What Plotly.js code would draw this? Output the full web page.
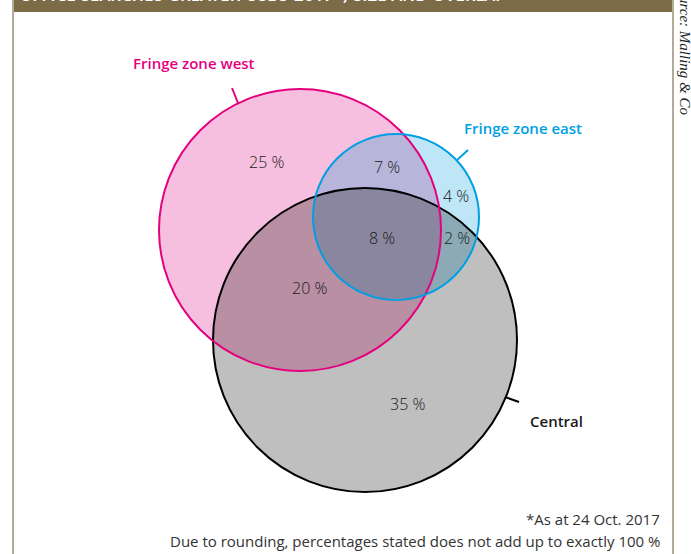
<!DOCTYPE html>
<html>
<head>
<meta charset="utf-8">
<script src="https://cdn.plot.ly/plotly-3.0.1.min.js"></script>
<style>
  html, body { margin: 0; padding: 0; background: #fff; }
  #chart { width: 691px; height: 554px; }
</style>
</head>
<body>
<div id="chart"></div>
<script>
// ---- data ----
const setNames = ['Fringe zone west', 'Fringe zone east', 'Central'];
const regionNames = ['West only', 'West & East', 'East only', 'West & East & Central', 'East & Central', 'West & Central', 'Central only'];
const regionValues = [25, 7, 4, 8, 2, 20, 35];
const titleText = 'OFFICE SEARCHES GREATER OSLO 2017*, SIZE AND OVERLAP';
const sourceText = 'Source: Malling & Co';
const footnotes = ['*As at 24 Oct. 2017', 'Due to rounding, percentages stated does not add up to exactly 100 %'];

// ---- layout geometry / styling ----
const circles = [
  {cx: 300, cy: 230, r: 141, fill: '#f7bfdf', line: '#e4007f'},
  {cx: 396, cy: 217, r: 83, fill: '#bee6f7', line: '#009fe3'},
  {cx: 365, cy: 340, r: 152, fill: '#bfbfbf', line: '#000000'}
];
// painter order for overlap fills: [set indices, colour]
const overlapFills = [
  [[0, 2], '#b98fa3'],
  [[0, 1], '#b8b5db'],
  [[1, 2], '#8caab5'],
  [[0, 1, 2], '#8a86a0']
];
const strokeOrder = [2, 0, 1];
const regionPos = [[266, 162], [387, 167], [456, 196], [382, 238], [457, 238], [309, 288], [407, 404]];
const setLabelPos = [{x: 131, y: 63}, {x: 462, y: 128}, {x: 528, y: 421}];
const leaders = [[232, 88, 238, 103], [468, 150, 457, 160], [505, 397, 519, 402]];

// ---- geometry helpers ----
const N = 720;
function circlePts(c) {
  const pts = [];
  for (let i = 0; i < N; i++) { const a = 2 * Math.PI * i / N; pts.push([c.cx + c.r * Math.cos(a), c.cy + c.r * Math.sin(a)]); }
  return pts;
}
function inside(p, c) { const dx = p[0] - c.cx, dy = p[1] - c.cy; return dx * dx + dy * dy <= c.r * c.r + 1e-6; }
function pairIntersections(a, b) {
  const dx = b.cx - a.cx, dy = b.cy - a.cy, d = Math.hypot(dx, dy);
  if (d > a.r + b.r || d < Math.abs(a.r - b.r)) return [];
  const l = (a.r * a.r - b.r * b.r + d * d) / (2 * d), h = Math.sqrt(Math.max(0, a.r * a.r - l * l));
  const mx = a.cx + l * dx / d, my = a.cy + l * dy / d;
  return [[mx + h * dy / d, my - h * dx / d], [mx - h * dy / d, my + h * dx / d]];
}
function regionPath(idxs) {
  const pts = [];
  idxs.forEach(i => circlePts(circles[i]).forEach(p => {
    if (idxs.every(j => j === i || inside(p, circles[j]))) pts.push(p);
  }));
  for (let a = 0; a < idxs.length; a++) for (let b = a + 1; b < idxs.length; b++) {
    pairIntersections(circles[idxs[a]], circles[idxs[b]]).forEach(p => {
      if (idxs.every(j => j === idxs[a] || j === idxs[b] || inside(p, circles[j]))) pts.push(p);
    });
  }
  const mx = pts.reduce((s, p) => s + p[0], 0) / pts.length, my = pts.reduce((s, p) => s + p[1], 0) / pts.length;
  pts.sort((p, q) => Math.atan2(p[1] - my, p[0] - mx) - Math.atan2(q[1] - my, q[0] - mx));
  return 'M' + pts.map(p => p[0].toFixed(2) + ',' + p[1].toFixed(2)).join('L') + 'Z';
}

const shapes = [];
// base fills: central, west, east
[2, 0, 1].forEach(i => { const c = circles[i]; shapes.push({type: 'circle', xref: 'x', yref: 'y', x0: c.cx - c.r, x1: c.cx + c.r, y0: c.cy - c.r, y1: c.cy + c.r, fillcolor: c.fill, line: {width: 0}, layer: 'below'}); });
// overlap fills
overlapFills.forEach(o => shapes.push({type: 'path', xref: 'x', yref: 'y', path: regionPath(o[0]), fillcolor: o[1], line: {width: 0}, layer: 'below'}));
// banner + frame
shapes.push({type: 'rect', xref: 'x', yref: 'y', x0: 13, x1: 673, y0: 0, y1: 12, fillcolor: '#7b6c47', line: {width: 0}, layer: 'below'});
shapes.push({type: 'line', xref: 'x', yref: 'y', x0: 13, x1: 13, y0: 0, y1: 554, line: {color: '#b3aa99', width: 2}, layer: 'above'});
shapes.push({type: 'line', xref: 'x', yref: 'y', x0: 673, x1: 673, y0: 0, y1: 554, line: {color: '#b3aa99', width: 2}, layer: 'above'});
// strokes
strokeOrder.forEach(i => { const c = circles[i]; shapes.push({type: 'circle', xref: 'x', yref: 'y', x0: c.cx - c.r, x1: c.cx + c.r, y0: c.cy - c.r, y1: c.cy + c.r, fillcolor: 'rgba(0,0,0,0)', line: {color: c.line, width: 2}, layer: 'above'}); });
// leaders
leaders.forEach((l, i) => shapes.push({type: 'line', xref: 'x', yref: 'y', x0: l[0], y0: l[1], x1: l[2], y1: l[3], line: {color: circles[i].line, width: 2}, layer: 'above'}));

const annotations = [];
regionValues.forEach((v, i) => annotations.push({
  x: regionPos[i][0], y: regionPos[i][1], xref: 'x', yref: 'y', text: v + ' %', showarrow: false,
  xanchor: 'center', yanchor: 'middle', font: {family: 'Open Sans', size: 16, color: '#1a1a1a', weight: 300}
}));
setNames.forEach((n, i) => annotations.push({
  x: setLabelPos[i].x, y: setLabelPos[i].y, xref: 'x', yref: 'y', text: n, showarrow: false,
  xanchor: 'left', yanchor: 'middle', font: {family: 'Open Sans', size: 15, color: i === 2 ? '#1a1a1a' : circles[i].line, weight: 600}
}));
annotations.push({x: 662, y: 519, xref: 'x', yref: 'y', text: footnotes[0], showarrow: false, xanchor: 'right', yanchor: 'middle', font: {family: 'Open Sans', size: 15, color: '#333333'}});
annotations.push({x: 662, y: 541, xref: 'x', yref: 'y', text: footnotes[1], showarrow: false, xanchor: 'right', yanchor: 'middle', font: {family: 'Open Sans', size: 15, color: '#333333'}});
annotations.push({x: 18, y: 0, yshift: -8, xref: 'x', yref: 'y', text: titleText, showarrow: false, xanchor: 'left', yanchor: 'bottom', font: {family: 'Open Sans', size: 18, color: '#ffffff', style: 'italic', weight: 600}});
annotations.push({x: 685, y: 48, xref: 'x', yref: 'y', text: sourceText, textangle: 90, showarrow: false, xanchor: 'center', yanchor: 'middle', font: {family: 'Liberation Serif', size: 15, color: '#222222', style: 'italic'}});

const layout = {
  width: 691, height: 554,
  margin: {l: 0, r: 0, t: 0, b: 0, pad: 0},
  paper_bgcolor: '#ffffff', plot_bgcolor: '#ffffff',
  xaxis: {range: [0, 691], visible: false, fixedrange: true},
  yaxis: {range: [554, 0], visible: false, fixedrange: true},
  showlegend: false,
  shapes: shapes,
  annotations: annotations
};

Plotly.newPlot('chart', [], layout, {staticPlot: true, displayModeBar: false});
</script>
</body>
</html>
